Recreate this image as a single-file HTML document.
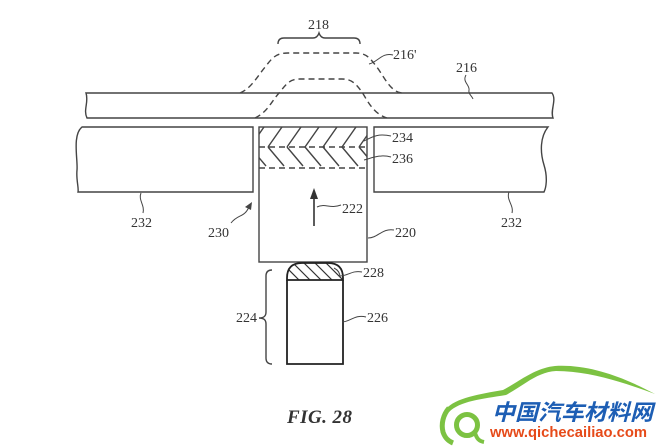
<!DOCTYPE html>
<html><head><meta charset="utf-8"><style>
html,body{margin:0;padding:0;background:#fff;}
svg{display:block;}
.l{fill:none;stroke:#444;stroke-width:1.4;}
.t{font-family:"Liberation Serif",serif;font-size:14px;fill:#333;}
.ld{fill:none;stroke:#444;stroke-width:1;}
</style></head><body>
<svg width="660" height="447" viewBox="0 0 660 447" xmlns="http://www.w3.org/2000/svg">
<rect width="660" height="447" fill="#fff"/>
<defs>
<clipPath id="c1"><rect x="259" y="127" width="108" height="41"/></clipPath>
<clipPath id="c2"><path d="M287,280 L287,278 C287,268 292,263 302,263 L328,263 C338,263 343,268 343,278 L343,280 Z"/></clipPath>
</defs>
<!-- panel 216 -->
<path class="l" d="M86,93 L552,93 C557,100 550,110 553,118 L87,118 C83,110 89,102 86,93 Z"/>
<!-- dashed bulges -->
<path class="l" stroke-dasharray="6 4" d="M240,93 C252,88 258,75 266,66 C272,58 276,53 288,53 L356,53 C366,53 370,58 376,66 C384,76 390,92 402,93"/>
<path class="l" stroke-dasharray="6 4" d="M255,118 C268,112 272,100 280,92 C286,84 290,79 300,79 L342,79 C352,79 356,84 362,92 C368,102 374,114 387,118"/>
<!-- brace 218 -->
<path class="l" d="M278,44 C278,40 280,38 284,38 L313,38 C316,38 318,36 319,33 C320,36 322,38 325,38 L354,38 C358,38 360,40 360,44"/>
<!-- blocks 232 -->
<path class="l" d="M253,127 L82,127 C72,135 78,160 77,170 C76,180 79,188 78,192 L253,192 Z"/>
<path class="l" d="M374,127 L548,127 C540,137 540,152 544,165 C548,178 546,188 544,192 L374,192 Z"/>
<!-- element 220 -->
<rect class="l" x="259" y="127" width="108" height="135"/>
<line class="l" stroke-dasharray="6 4" x1="259" y1="147" x2="367" y2="147"/>
<line class="l" stroke-dasharray="6 4" x1="259" y1="168" x2="367" y2="168"/>
<g clip-path="url(#c1)" class="l">
<path d="M250,147 L264,127 M250,147 L266,166 M268,147 L282,127 M268,147 L284,166 M287,147 L301,127 M287,147 L303,166 M305,147 L319,127 M305,147 L321,166 M323,147 L337,127 M323,147 L339,166 M342,147 L356,127 M342,147 L358,166 M359,147 L373,127 M359,147 L375,166"/>
</g>
<!-- arrow 222 -->
<line x1="314" y1="226" x2="314" y2="196" stroke="#333" stroke-width="1.6"/>
<polygon points="314,188 310,199 318,199" fill="#333"/>
<!-- element 226 / 228 -->
<g clip-path="url(#c2)" stroke="#333" stroke-width="1.2">
<path d="M271,263 L288,280 M282,263 L299,280 M293,263 L310,280 M304,263 L321,280 M315,263 L332,280 M326,263 L343,280 M337,263 L354,280"/>
</g>
<path fill="none" stroke="#222" stroke-width="1.8" d="M287,280 L287,278 C287,268 292,263 302,263 L328,263 C338,263 343,268 343,278 L343,280 Z"/>
<path fill="none" stroke="#222" stroke-width="1.8" d="M287,280 L287,364 L343,364 L343,280"/>
<path class="ld" d="M334,268 C338,270 340,273 340,277"/>
<!-- brace 224 -->
<path class="l" d="M272,270 C268,270 266,272 266,276 L266,312 C266,316 264,318 259,318 C264,318 266,320 266,324 L266,358 C266,362 268,364 272,364"/>
<!-- leaders -->
<path class="ld" d="M369,64 C378,62 382,52 393,55"/>
<path class="ld" d="M466,75 C462,82 470,85 469,90 C468,94 472,96 473,99"/>
<path class="ld" d="M141,193 C138,200 145,205 143,213"/>
<path class="ld" d="M509,192 C506,200 514,205 512,213"/>
<path class="ld" d="M231,223 C238,214 244,218 249,207"/>
<polygon points="252,202 245,207 251,210" fill="#444"/>
<path class="ld" d="M317,207 C325,203 330,209 341,205"/>
<path class="ld" d="M368,238 C378,238 382,228 394,230"/>
<path class="ld" d="M364,141 C372,137 378,133 391,136"/>
<path class="ld" d="M364,160 C372,158 380,154 391,157"/>
<path class="ld" d="M340,276 C348,276 352,270 362,272"/>
<path class="ld" d="M342,322 C350,322 355,314 366,317"/>
<!-- labels -->
<text class="t" x="308" y="29">218</text>
<text class="t" x="393" y="59">216'</text>
<text class="t" x="456" y="72">216</text>
<text class="t" x="131" y="227">232</text>
<text class="t" x="501" y="227">232</text>
<text class="t" x="208" y="237">230</text>
<text class="t" x="342" y="213">222</text>
<text class="t" x="395" y="237">220</text>
<text class="t" x="392" y="142">234</text>
<text class="t" x="392" y="163">236</text>
<text class="t" x="363" y="277">228</text>
<text class="t" x="367" y="322">226</text>
<text class="t" x="236" y="322">224</text>
<text x="287" y="423" textLength="65" style="font-family:'Liberation Serif',serif;font-size:19px;font-weight:bold;font-style:italic;fill:#333;">FIG. 28</text>
<!-- logo -->
<path fill="#7cc242" d="M446,409 C455,398 480,394 503,390 C520,381 535,368 555,366 C590,364 625,378 655,394 C625,383 590,371 556,371 C537,372 523,386 506,395 C482,399 460,401 449,412 Z"/>
<path fill="none" stroke="#7cc242" stroke-width="5" d="M449,408 C443,415 441,424 443,432 C445,438 448,441 453,443"/>
<circle cx="467" cy="425" r="10.5" fill="none" stroke="#7cc242" stroke-width="5"/>
<path fill="none" stroke="#7cc242" stroke-width="4" d="M475,433 C477,439 479,441 484,442"/>
<text x="492" y="420" textLength="161" lengthAdjust="spacingAndGlyphs" style="font-family:'Liberation Sans','Noto Sans CJK SC',sans-serif;font-size:22px;font-weight:bold;font-style:italic;fill:#1d5eb4;">中国汽车材料网</text>
<text x="490" y="437" textLength="157" lengthAdjust="spacingAndGlyphs" style="font-family:'Liberation Sans',sans-serif;font-size:14.5px;font-weight:bold;fill:#e64a19;">www.qichecailiao.com</text>
</svg>
</body></html>
